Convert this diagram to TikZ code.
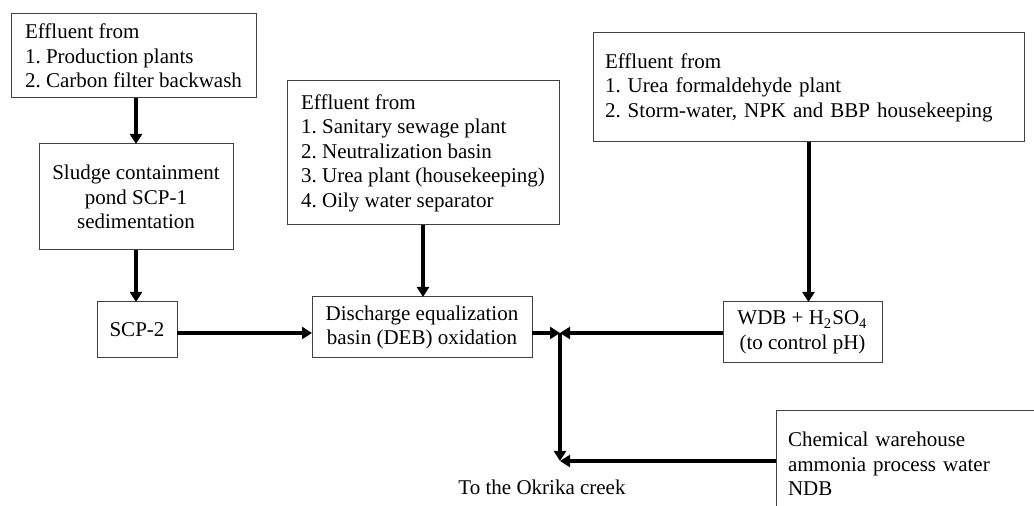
\documentclass[tikz,border=0pt]{standalone}
\usepackage{fontspec}
\setmainfont{Liberation Serif}
\usetikzlibrary{arrows.meta}
\frenchspacing
\begin{document}
\begin{tikzpicture}[x=0.5pt,y=-0.5pt,inner sep=0pt,outer sep=0pt,
  font=\fontsize{10.5}{12.25}\selectfont,
  flowblock/.style={draw=black!75,line width=0.5pt,rectangle,inner xsep=6pt,inner ysep=4pt,align=center},
  srcblock/.style={flowblock,align=left},
  flow/.style={line width=2pt,-{Triangle[length=5pt,width=6pt]}}]
\useasboundingbox (0,0) rectangle (1034,506);

\draw (133.5,56) node[srcblock,minimum width=122.5pt,minimum height=42pt] (srcA) {Effluent from\\1. Production plants\\2. Carbon filter backwash};
\draw (136,197) node[flowblock,minimum width=97pt,minimum height=53pt] (SCP1) {Sludge containment\\pond SCP-1\\sedimentation};
\draw (137,330) node[flowblock,minimum width=40pt,minimum height=28pt] (SCP2) {SCP-2};
\draw (423,153) node[srcblock,minimum width=136pt,minimum height=72pt] (srcB) {Effluent from\\1. Sanitary sewage plant\\2. Neutralization basin\\3. Urea plant (housekeeping)\\4. Oily water separator};
\draw (422,327.5) node[flowblock,minimum width=110pt,minimum height=30.5pt] (DEB) {Discharge equalization\\basin (DEB) oxidation};
\draw (808.5,87.5) node[srcblock,text width=203.5pt,minimum height=54.5pt] (srcC) {Effluent from\\1. Urea formaldehyde plant\\2. Storm-water, NPK and BBP housekeeping};
\draw (802.5,332.5) node[flowblock,minimum width=79.5pt,minimum height=30.5pt] (WDB) {WDB + H\textsubscript{2}SO\textsubscript{4}\\ (to control pH)};
\draw (776,411) node[srcblock,anchor=north west,inner ysep=10.5pt,text width=150pt] (NDB) {Chemical warehouse\\ammonia process water\\NDB};
\draw (542,487) node (creek) {To the Okrika creek};
\coordinate (J) at (560,333);
\coordinate (K) at (560,461);

\draw[flow] (SCP1.north |- srcA.south) -- (SCP1.north);
\draw[flow] (SCP1.south) -- (SCP1.south |- SCP2.north);
\draw[flow] (srcB.south) -- (srcB.south |- DEB.north);
\draw[flow] (srcC.south) -- (srcC.south |- WDB.north);
\draw[flow] (SCP2.east |- J) -- (DEB.west |- J);
\draw[flow] (DEB.east |- J) -- (J);
\draw[flow] (WDB.west |- J) -- (J);
\draw[flow] (J) -- (K);
\draw[flow] (NDB.west |- K) -- (K);
\end{tikzpicture}
\end{document}
